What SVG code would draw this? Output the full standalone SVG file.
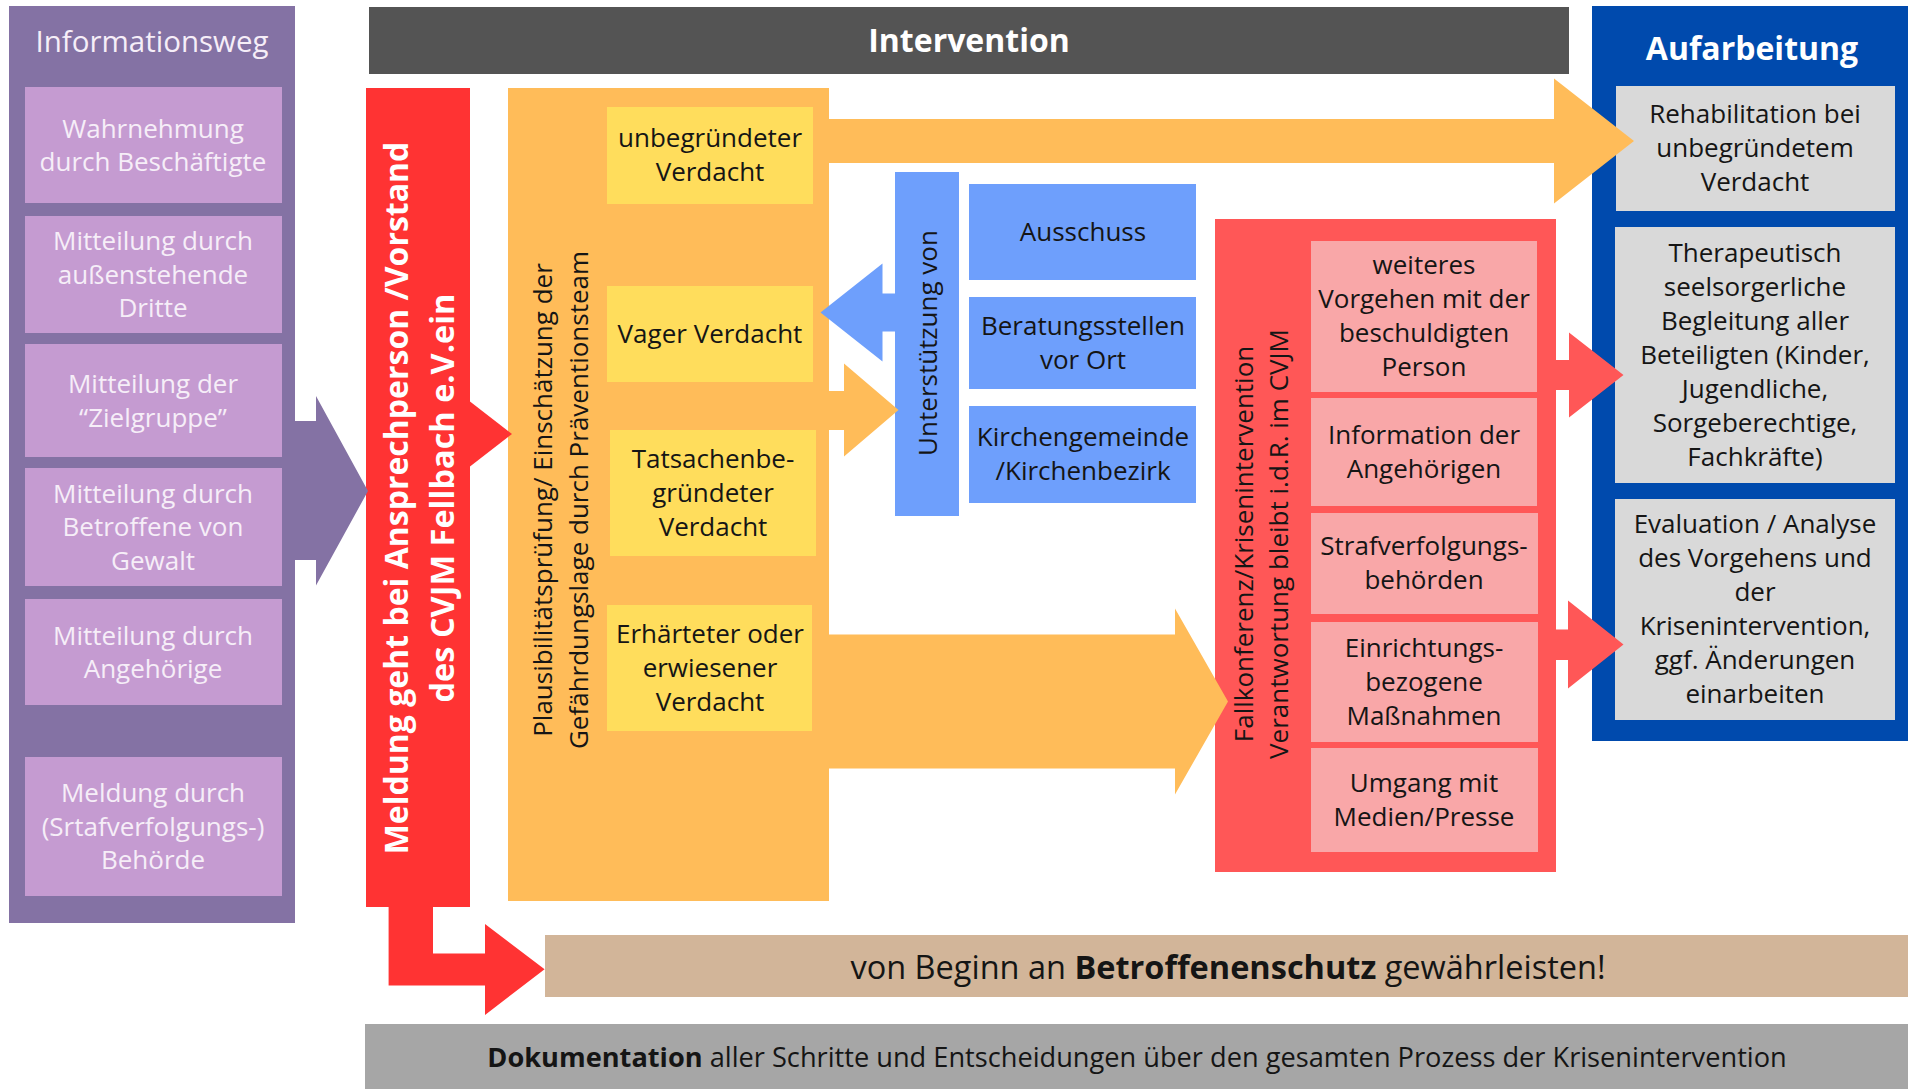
<svg xmlns="http://www.w3.org/2000/svg" width="1908" height="1089" viewBox="0 0 1908 1089">
<style>
text{font-family:"Open Sans","Noto Sans","DejaVu Sans",sans-serif;text-anchor:middle;fill:#151515}
.t{font-size:26px}
.p{font-size:26px;fill:#F6EEF8}
.w{fill:#ffffff;font-weight:bold}
.v{font-size:26px}
</style>
<rect width="1908" height="1089" fill="#ffffff"/>

<g id="informationsweg">
<rect x="9" y="6" width="286" height="917" fill="#8472A4"/>
<text class="p" x="152" y="52" style="font-size:29.5px">Informationsweg</text>
</g>
<g id="wahrnehmung">
<rect x="25" y="87" width="257" height="116" fill="#C59BD1"/>
<text class="p" x="153" y="137.6">Wahrnehmung</text>
<text class="p" x="153" y="171">durch Beschäftigte</text>
</g>
<g id="dritte">
<rect x="25" y="216" width="257" height="117" fill="#C59BD1"/>
<text class="p" x="153" y="250.4">Mitteilung durch</text>
<text class="p" x="153" y="283.8">außenstehende</text>
<text class="p" x="153" y="317.2">Dritte</text>
</g>
<g id="zielgruppe">
<rect x="25" y="344" width="257" height="113" fill="#C59BD1"/>
<text class="p" x="153" y="393.1">Mitteilung der</text>
<text class="p" x="153" y="426.5">“Zielgruppe”</text>
</g>
<g id="betroffene">
<rect x="25" y="468" width="257" height="118" fill="#C59BD1"/>
<text class="p" x="153" y="502.7">Mitteilung durch</text>
<text class="p" x="153" y="536.1">Betroffene von</text>
<text class="p" x="153" y="569.5">Gewalt</text>
</g>
<g id="angehoerige">
<rect x="25" y="599" width="257" height="106" fill="#C59BD1"/>
<text class="p" x="153" y="644.6">Mitteilung durch</text>
<text class="p" x="153" y="678">Angehörige</text>
</g>
<g id="behoerde">
<rect x="25" y="757" width="257" height="139" fill="#C59BD1"/>
<text class="p" x="153" y="802.4">Meldung durch</text>
<text class="p" x="153" y="835.8">(Srtafverfolgungs-)</text>
<text class="p" x="153" y="869.2">Behörde</text>
</g>

<g id="intervention">
<rect x="369" y="7" width="1200" height="67" fill="#545454"/>
<text class="w" x="969" y="52" style="font-size:32px">Intervention</text>
</g>

<g id="meldung">
<rect x="366" y="88" width="104" height="819" fill="#FF3333"/>
<text class="w" transform="translate(408,498) rotate(-90)" style="font-size:32px">Meldung geht bei Ansprechperson /Vorstand</text>
<text class="w" transform="translate(454,498) rotate(-90)" style="font-size:32.5px">des CVJM Fellbach e.V.ein</text>
</g>

<g id="plausibilitaet">
<rect x="508" y="88" width="321" height="813" fill="#FFBC59"/>
<text class="v" transform="translate(552,500) rotate(-90)">Plausibilitätsprüfung/ Einschätzung der</text>
<text class="v" transform="translate(588,500) rotate(-90)">Gefährdungslage durch Präventionsteam</text>
</g>
<g id="unbegruendet">
<rect x="607" y="107" width="206" height="97" fill="#FFDD5C"/>
<text class="t" x="710" y="147.4">unbegründeter</text>
<text class="t" x="710" y="181.4">Verdacht</text>
</g>
<g id="vage">
<rect x="607" y="286" width="206" height="96" fill="#FFDD5C"/>
<text class="t" x="710" y="343.4">Vager Verdacht</text>
</g>
<g id="tatsachen">
<rect x="610" y="430" width="206" height="126" fill="#FFDD5C"/>
<text class="t" x="713" y="467.9">Tatsachenbe-</text>
<text class="t" x="713" y="501.9">gründeter</text>
<text class="t" x="713" y="535.9">Verdacht</text>
</g>
<g id="erhaertet">
<rect x="607" y="605" width="205" height="126" fill="#FFDD5C"/>
<text class="t" x="710" y="642.9">Erhärteter oder</text>
<text class="t" x="710" y="676.9">erwiesener</text>
<text class="t" x="710" y="710.9">Verdacht</text>
</g>

<g id="unterstuetzung">
<rect x="895" y="172" width="64" height="344" fill="#6E9FFC"/>
<text class="v" transform="translate(937,343) rotate(-90)">Unterstützung von</text>
</g>
<g id="ausschuss">
<rect x="969" y="184" width="227" height="96" fill="#6E9FFC"/>
<text class="t" x="1083" y="241.4">Ausschuss</text>
</g>
<g id="beratungsstellen">
<rect x="969" y="297" width="227" height="92" fill="#6E9FFC"/>
<text class="t" x="1083" y="334.9">Beratungsstellen</text>
<text class="t" x="1083" y="368.9">vor Ort</text>
</g>
<g id="kirchengemeinde">
<rect x="969" y="406" width="227" height="97" fill="#6E9FFC"/>
<text class="t" x="1083" y="446.4">Kirchengemeinde</text>
<text class="t" x="1083" y="480.4">/Kirchenbezirk</text>
</g>

<g id="fallkonferenz">
<rect x="1215" y="219" width="341" height="653" fill="#FF5757"/>
<text class="v" transform="translate(1253,544) rotate(-90)">Fallkonferenz/Krisenintervention</text>
<text class="v" transform="translate(1288,544) rotate(-90)">Verantwortung bleibt i.d.R. im CVJM</text>
</g>
<g id="vorgehen">
<rect x="1311" y="241" width="226" height="151" fill="#F9A7A8"/>
<text class="t" x="1424" y="274.4">weiteres</text>
<text class="t" x="1424" y="308.4">Vorgehen mit der</text>
<text class="t" x="1424" y="342.4">beschuldigten</text>
<text class="t" x="1424" y="376.4">Person</text>
</g>
<g id="information">
<rect x="1311" y="398" width="226" height="108" fill="#F9A7A8"/>
<text class="t" x="1424" y="443.9">Information der</text>
<text class="t" x="1424" y="477.9">Angehörigen</text>
</g>
<g id="strafverfolgung">
<rect x="1311" y="513" width="227" height="101" fill="#F9A7A8"/>
<text class="t" x="1424" y="555.4">Strafverfolgungs-</text>
<text class="t" x="1424" y="589.4">behörden</text>
</g>
<g id="einrichtung">
<rect x="1311" y="622" width="227" height="120" fill="#F9A7A8"/>
<text class="t" x="1424" y="656.9">Einrichtungs-</text>
<text class="t" x="1424" y="690.9">bezogene</text>
<text class="t" x="1424" y="724.9">Maßnahmen</text>
</g>
<g id="medien">
<rect x="1311" y="748" width="227" height="104" fill="#F9A7A8"/>
<text class="t" x="1424" y="791.9">Umgang mit</text>
<text class="t" x="1424" y="825.9">Medien/Presse</text>
</g>

<g id="aufarbeitung">
<rect x="1592" y="6" width="316" height="735" fill="#004AAD"/>
<text class="w" x="1752" y="60" style="font-size:32px">Aufarbeitung</text>
</g>
<g id="rehabilitation">
<rect x="1616" y="86" width="279" height="125" fill="#D9D9D9"/>
<text class="t" x="1755" y="123.4">Rehabilitation bei</text>
<text class="t" x="1755" y="157.4">unbegründetem</text>
<text class="t" x="1755" y="191.4">Verdacht</text>
</g>
<g id="therapeutisch">
<rect x="1615" y="227" width="280" height="256" fill="#D9D9D9"/>
<text class="t" x="1755" y="261.9">Therapeutisch</text>
<text class="t" x="1755" y="295.9">seelsorgerliche</text>
<text class="t" x="1755" y="329.9">Begleitung aller</text>
<text class="t" x="1755" y="363.9">Beteiligten (Kinder,</text>
<text class="t" x="1755" y="397.9">Jugendliche,</text>
<text class="t" x="1755" y="431.9">Sorgeberechtige,</text>
<text class="t" x="1755" y="465.9">Fachkräfte)</text>
</g>
<g id="evaluation">
<rect x="1615" y="499" width="280" height="221" fill="#D9D9D9"/>
<text class="t" x="1755" y="533.4">Evaluation / Analyse</text>
<text class="t" x="1755" y="567.4">des Vorgehens und</text>
<text class="t" x="1755" y="601.4">der</text>
<text class="t" x="1755" y="635.4">Krisenintervention,</text>
<text class="t" x="1755" y="669.4">ggf. Änderungen</text>
<text class="t" x="1755" y="703.4">einarbeiten</text>
</g>

<g id="betroffenenschutz">
<rect x="545" y="935" width="1363" height="62" fill="#D2B599"/>
<text x="1228" y="978.5" style="font-size:32.5px">von Beginn an <tspan font-weight="bold">Betroffenenschutz</tspan> gewährleisten!</text>
</g>
<g id="dokumentation">
<rect x="365" y="1024" width="1543" height="65" fill="#A6A6A6"/>
<text x="1137" y="1067" style="font-size:27.2px"><tspan font-weight="bold">Dokumentation</tspan> aller Schritte und Entscheidungen über den gesamten Prozess der Krisenintervention</text>
</g>

<g id="connectors">
<polygon fill="#8472A4" points="295,421 316,421 316,396 368,491 316,585.5 316,560 295,560"/>
<polygon fill="#FF3333" points="470,401.5 512,434 470,466.5"/>
<polygon fill="#FFBC59" points="829,119 1554,119 1554,78.5 1634,141 1554,203.5 1554,163 829,163"/>
<polygon fill="#FFBC59" points="829,391 844,391 844,363.5 898.5,410 844,456.5 844,430 829,430"/>
<polygon fill="#6E9FFC" points="895.5,293.5 882.5,293.5 882.5,263.5 820.5,312.5 882.5,361.5 882.5,331.5 895.5,331.5"/>
<polygon fill="#FFBC59" points="829,634.5 1175,634.5 1175,608.5 1228,701.5 1175,794.5 1175,768.5 829,768.5"/>
<polygon fill="#FF5757" points="1556,360 1569,360 1569,332.5 1623.5,375 1569,417.5 1569,390 1556,390"/>
<polygon fill="#FF5757" points="1556,629.5 1568,629.5 1568,600.5 1623.5,644.5 1568,688.5 1568,660 1556,660"/>
<polygon fill="#FF3333" points="388.6,906 433,906 433,953.5 485,953.5 485,924 544.6,969.3 485,1015 485,985.4 388.6,985.4"/>
</g>
</svg>
